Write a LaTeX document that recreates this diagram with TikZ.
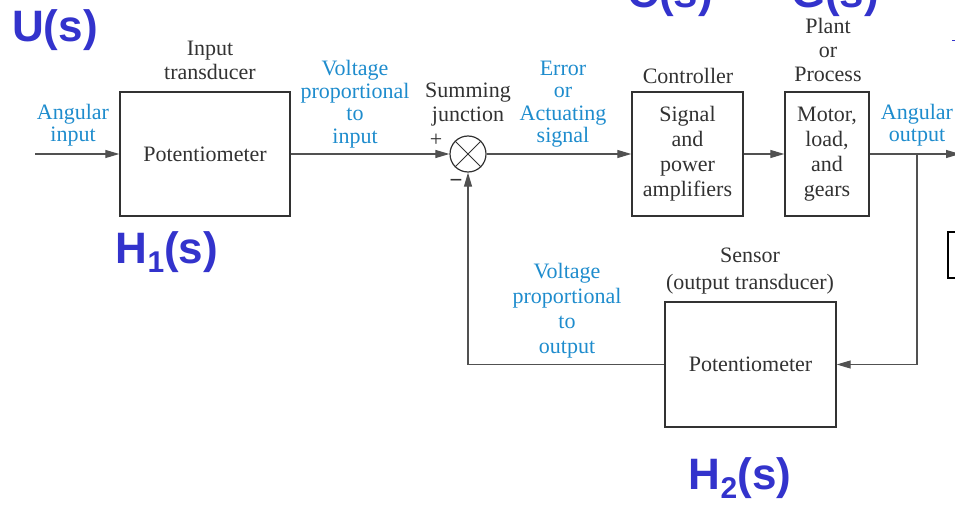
\documentclass[tikz,border=0pt]{standalone}
\usepackage{fontspec}
\setmainfont{Liberation Serif}
\newfontfamily\bigsans{Liberation Sans}
\usetikzlibrary{arrows.meta}
\definecolor{lbl}{RGB}{30,140,205}
\definecolor{big}{RGB}{51,51,204}
\definecolor{ink}{RGB}{50,50,50}
\newcommand{\lowsub}[1]{\raisebox{-9pt}{\fontsize{30}{30}\selectfont #1}}
\begin{document}
\begin{tikzpicture}[x=1pt,y=-1pt,
 blk/.style={draw=ink, line width=1.4pt, rectangle, inner sep=0pt, align=center, font=\fontsize{22}{25}\selectfont, text=ink},
 wire/.style={draw=ink!85, line width=1.1pt},
 arr/.style={wire, -{Triangle[length=14pt,width=8pt]}},
 lab/.style={align=center, font=\fontsize{22}{22.5}\selectfont, text=lbl, inner sep=0pt},
 captxt/.style={align=center, font=\fontsize{22}{24}\selectfont, text=ink, inner sep=0pt},
 tf/.style={font=\bigsans\bfseries\fontsize{44}{44}\selectfont, text=big, inner sep=0pt}]
\useasboundingbox (0,0) rectangle (955,505);
\clip (0,0) rectangle (955,505);
% blocks
\node[blk, minimum width=170pt, minimum height=124pt] (pot1) at (205,154) {Potentiometer};
\node[draw=ink, line width=1.2pt, circle, minimum size=36pt, inner sep=0pt] (sum) at (468,154) {};
\draw[ink, line width=1pt] (sum.north west) -- (sum.south east) (sum.north east) -- (sum.south west);
\node[blk, minimum width=111pt, minimum height=124pt] (ctrl) at (687.5,154) {Signal\\and\\power\\amplifiers};
\node[blk, minimum width=84pt, minimum height=124pt] (plant) at (827,154) {Motor,\\load,\\and\\gears};
\node[blk, minimum width=171pt, minimum height=125pt] (pot2) at (750.5,364.5) {Potentiometer};
% coordinates
\coordinate (in) at (35,154);
\coordinate (out) at (960,154);
\coordinate (tap) at (917,154);
\coordinate (fbr) at (917,364.5);
\coordinate (fbl) at (468,364.5);
% connectors
\draw[arr] (in) -- (pot1);
\draw[arr] (pot1) -- (sum);
\draw[arr] (sum) -- (ctrl);
\draw[arr] (ctrl) -- (plant);
\draw[arr] (plant) -- (out);
\draw[arr] (tap) -- (fbr) -- (pot2.east);
\draw[arr] (pot2.west) -- (fbl) -- (sum.south);
% captions
\node[lab] (lin) at (73,125) {Angular\\input};
\node[captxt] (cin) at (210,60) {Input\\transducer};
\node[lab] (lvi) at (355,104) {Voltage\\proportional\\to\\input};
\node[captxt] (csum) at (468,105) {Summing\\junction};
\node[captxt] (plus) at (436,140) {+};
\node[captxt] (minus) at (456,183) {\bigsans −};
\node[lab] (lerr) at (563,104) {Error\\or\\Actuating\\signal};
\node[captxt] (cctrl) at (688,76) {Controller};
\node[captxt] (cplant) at (828,50) {Plant\\or\\Process};
\node[lab] (lout) at (917,125) {Angular\\output};
\node[captxt, font=\fontsize{22}{27}\selectfont] (csens) at (750,271) {Sensor\\(output transducer)};
\node[lab, font=\fontsize{22}{25}\selectfont] (lvo) at (567,311) {Voltage\\proportional\\to\\output};
% transfer functions
\node[tf] (U) at (55,30) {U(s)};
\node[tf] (H1) at (167,252) {H\lowsub{1}(s)};
\node[tf] (C) at (670,-4) {C(s)};
\node[tf] (G) at (835,-4) {G(s)};
\node[tf] (H2) at (740,478) {H\lowsub{2}(s)};
% fragments at the right edge
\draw[black, line width=2pt] (957,232) -- (948,232) -- (948,278) -- (957,278);
\draw[big, line width=1pt] (952,41) -- (956,41);
\end{tikzpicture}
\end{document}
